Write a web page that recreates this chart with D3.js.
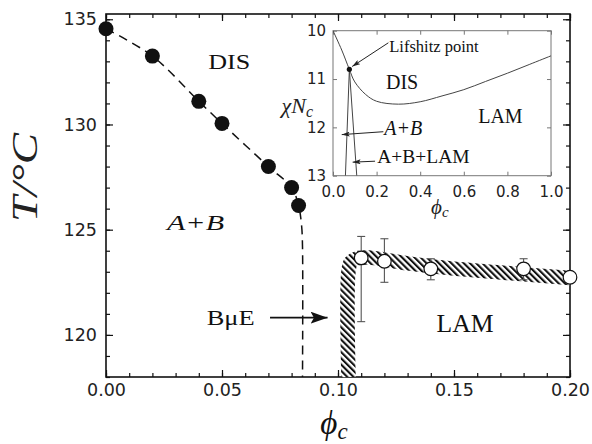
<!DOCTYPE html>
<html>
<head>
<meta charset="utf-8">
<script src="https://cdn.jsdelivr.net/npm/d3@7"></script>
<style>
body{margin:0;background:#fff;}
svg{display:block;}
.serif{font-family:"Liberation Serif","Times New Roman",serif;}
.tick text{font-family:"DejaVu Sans",sans-serif;}
</style>
</head>
<body>
<svg id="chart" width="592" height="444"></svg>
<script>

// ===============================
// DATA (main panel)
// ===============================

const filledPhi=[0.00,0.02,0.04,0.05,0.07,0.08,0.083];
const filledT=[134.55,133.25,131.1,130.05,128.0,127.0,126.15];

const dashPhi=[0.00,0.02,0.04,0.05,0.07,0.08,0.083,0.0843,0.0847,0.0847];
const dashT=[134.55,133.25,131.1,130.05,128.0,127.0,126.15,125.2,124.2,118.0];

const openPhi=[0.11,0.12,0.14,0.18,0.20];
const openT=[123.66,123.5,123.14,123.14,122.74];
const errLow=[120.63,122.5,122.62,122.62,null];
const errHigh=[124.68,124.57,123.62,123.62,null];

const bandPhi=[0.1045,0.1045,0.1055,0.108,0.113,0.13,0.15,0.17,0.20];
const bandT=[118.0,123.0,123.45,123.63,123.68,123.4,123.15,122.97,122.7];

const xTicks=[0.00,0.05,0.10,0.15,0.20];
const yTicks=[120,125,130,135];

// ===============================
// DATA (inset)
// ===============================

const insetPhi=[0,0.04,0.075,0.1,0.15,0.2,0.3,0.4,0.5,0.6,0.7,0.8,0.9,1.0];
const insetChi=[10.0,10.4,10.8,11.06,11.32,11.46,11.52,11.47,11.35,11.22,11.05,10.88,10.7,10.52];
const lifshitz=[0.075,10.8];
const abLeftPhi=[0.075,0.057];
const abRightPhi=[0.075,0.109];
const abChi=[10.8,13.0];
const insetXTicks=[0.0,0.2,0.4,0.6,0.8,1.0];
const insetYTicks=[10,11,12,13];

// ===============================
// SETUP
// ===============================

const svg=d3.select("#chart");

const x=d3.scaleLinear().domain([0,0.2]).range([106,570]);
const y=d3.scaleLinear().domain([118,135.25]).range([377,14]);

const ix=d3.scaleLinear().domain([0,1]).range([333,551]);
const iy=d3.scaleLinear().domain([10,13]).range([30.7,175.7]);

const defs=svg.append("defs");

const hatch=defs.append("pattern")
    .attr("id","hatch")
    .attr("patternUnits","userSpaceOnUse")
    .attr("width",4.4)
    .attr("height",4.4)
    .attr("patternTransform","rotate(-45)");
hatch.append("rect").attr("width",4.4).attr("height",4.4).attr("fill","#fff");
hatch.append("rect").attr("width",2.1).attr("height",4.4).attr("fill","#111");

function addArrow(id,len,wid,color){
    defs.append("marker")
        .attr("id",id)
        .attr("markerUnits","userSpaceOnUse")
        .attr("viewBox",`0 ${-wid/2} ${len} ${wid}`)
        .attr("refX",len)
        .attr("refY",0)
        .attr("markerWidth",len)
        .attr("markerHeight",wid)
        .attr("orient","auto")
        .append("path")
        .attr("d",`M0,${-wid/2}L${len},0L0,${wid/2}L${len*0.2},0Z`)
        .attr("fill",color);
}
addArrow("bigArrow",17,12,"#111");
addArrow("smallArrow",8,5,"#222");

// ===============================
// MAIN AXES
// ===============================

const minorX=d3.range(0,0.2001,0.01);
const minorY=d3.range(118,135.1,1);

function axisGroup(axis,transform){
    const g=svg.append("g").attr("transform",transform).call(axis);
    g.select(".domain").remove();
    g.selectAll(".tick line").attr("stroke","#111").attr("stroke-width",1.2);
    return g;
}

axisGroup(d3.axisBottom(x).tickValues(minorX).tickSize(-4).tickFormat(""),"translate(0,377)");
axisGroup(d3.axisTop(x).tickValues(minorX).tickSize(-4).tickFormat(""),"translate(0,14)");
axisGroup(d3.axisLeft(y).tickValues(minorY).tickSize(-4).tickFormat(""),"translate(106,0)");
axisGroup(d3.axisRight(y).tickValues(minorY).tickSize(-4).tickFormat(""),"translate(570,0)");

const xAxis=axisGroup(d3.axisBottom(x).tickValues(xTicks).tickSize(-7).tickPadding(7).tickFormat(d3.format(".2f")),"translate(0,377)");
axisGroup(d3.axisTop(x).tickValues(xTicks).tickSize(-7).tickFormat(""),"translate(0,14)");
const yAxis=axisGroup(d3.axisLeft(y).tickValues(yTicks).tickSize(-7).tickPadding(9).tickFormat(d3.format("d")),"translate(106,0)");
axisGroup(d3.axisRight(y).tickValues(yTicks).tickSize(-7).tickFormat(""),"translate(570,0)");

xAxis.selectAll("text").attr("font-size",17.5).attr("fill","#222");
yAxis.selectAll("text").attr("font-size",17.5).attr("fill","#222");

svg.append("rect")
    .attr("x",106).attr("y",14)
    .attr("width",464).attr("height",363)
    .attr("fill","none")
    .attr("stroke","#111")
    .attr("stroke-width",1.6);

// ===============================
// HATCHED BAND
// ===============================

const bandLine=d3.line()
    .x((d,i)=>x(bandPhi[i]))
    .y((d,i)=>y(bandT[i]))
    .curve(d3.curveCatmullRom);

svg.append("path")
    .attr("d",bandLine(bandPhi))
    .attr("fill","none")
    .attr("stroke","url(#hatch)")
    .attr("stroke-width",14.5)
    .attr("stroke-linejoin","round");

// ===============================
// DASHED BOUNDARY + FILLED POINTS
// ===============================

const dashLine=d3.line()
    .x((d,i)=>x(dashPhi[i]))
    .y((d,i)=>y(dashT[i]))
    .curve(d3.curveCatmullRom);

svg.append("path")
    .attr("d",dashLine(dashPhi))
    .attr("fill","none")
    .attr("stroke","#111")
    .attr("stroke-width",1.5)
    .attr("stroke-dasharray","9,6");

svg.selectAll(".filled")
    .data(filledPhi)
    .enter()
    .append("circle")
    .attr("class","filled")
    .attr("cx",d=>x(d))
    .attr("cy",(d,i)=>y(filledT[i]))
    .attr("r",7.5)
    .attr("fill","#111");

// ===============================
// ERROR BARS + OPEN POINTS
// ===============================

openPhi.forEach((p,i)=>{
    if(errLow[i]===null) return;
    const g=svg.append("g").attr("stroke","#555").attr("stroke-width",1.1);
    g.append("line").attr("x1",x(p)).attr("x2",x(p)).attr("y1",y(errLow[i])).attr("y2",y(errHigh[i]));
    g.append("line").attr("x1",x(p)-4).attr("x2",x(p)+4).attr("y1",y(errLow[i])).attr("y2",y(errLow[i]));
    g.append("line").attr("x1",x(p)-4).attr("x2",x(p)+4).attr("y1",y(errHigh[i])).attr("y2",y(errHigh[i]));
});

svg.selectAll(".open")
    .data(openPhi)
    .enter()
    .append("circle")
    .attr("class","open")
    .attr("cx",d=>x(d))
    .attr("cy",(d,i)=>y(openT[i]))
    .attr("r",6.8)
    .attr("fill","#fff")
    .attr("stroke","#111")
    .attr("stroke-width",1.2);

// ===============================
// MAIN LABELS
// ===============================

function label(text,px,py,size,opts={}){
    const t=svg.append("text")
        .attr("class","serif")
        .attr("x",px).attr("y",py)
        .attr("font-size",size)
        .attr("fill","#111")
        .text(text);
    if(opts.italic) t.attr("font-style","italic");
    if(opts.len) t.attr("textLength",opts.len).attr("lengthAdjust","spacingAndGlyphs");
    if(opts.anchor) t.attr("text-anchor",opts.anchor);
    return t;
}

label("DIS",x(0.0441),y(132.62),22,{len:42});
label("A+B",x(0.0263),y(124.98),22,{italic:true,len:57});
label("LAM",x(0.1425),y(120.15),25,{len:57});
label("BμE",x(0.0434),y(120.47),21,{len:48});

svg.append("line")
    .attr("x1",x(0.0707)).attr("x2",x(0.0955))
    .attr("y1",y(120.82)).attr("y2",y(120.82))
    .attr("stroke","#111")
    .attr("stroke-width",1.6)
    .attr("marker-end","url(#bigArrow)");

// axis titles
const xt=svg.append("text")
    .attr("class","serif")
    .attr("x",x(0.10)-4).attr("y",434)
    .attr("text-anchor","middle")
    .attr("font-size",33)
    .attr("font-style","italic")
    .attr("fill","#111");
xt.append("tspan").text("ϕ");
xt.append("tspan").attr("font-size",23).attr("dy",5).text("c");

svg.append("text")
    .attr("class","serif")
    .attr("transform","translate(37,177.5) rotate(-90)")
    .attr("text-anchor","middle")
    .attr("font-size",36)
    .attr("font-style","italic")
    .attr("fill","#222")
    .attr("textLength",89)
    .attr("lengthAdjust","spacingAndGlyphs")
    .text("T/°C");

// ===============================
// INSET
// ===============================

const inset=svg.append("g");

inset.append("rect")
    .attr("x",ix(0)).attr("y",iy(10))
    .attr("width",ix(1)-ix(0)).attr("height",iy(13)-iy(10))
    .attr("fill","#fff")
    .attr("stroke","#777")
    .attr("stroke-width",1);

function insetAxis(axis,transform){
    const g=inset.append("g").attr("transform",transform).call(axis);
    g.select(".domain").remove();
    g.selectAll(".tick line").attr("stroke","#777");
    g.selectAll(".tick text")
        .attr("font-family","Liberation Serif, serif")
        .attr("font-size",15)
        .attr("fill","#222");
    return g;
}

insetAxis(d3.axisBottom(ix).tickValues(insetXTicks).tickSize(-4).tickPadding(11).tickFormat(d3.format(".1f")),`translate(0,${iy(13)})`);
insetAxis(d3.axisTop(ix).tickValues(insetXTicks).tickSize(-4).tickFormat(""),`translate(0,${iy(10)})`);
insetAxis(d3.axisLeft(iy).tickValues(insetYTicks).tickSize(-4).tickPadding(7).tickFormat(d3.format("d")),`translate(${ix(0)},0)`);
insetAxis(d3.axisRight(iy).tickValues(insetYTicks).tickSize(-4).tickFormat(""),`translate(${ix(1)},0)`);

const insetClip=defs.append("clipPath").attr("id","insetClip");
insetClip.append("rect")
    .attr("x",ix(0)).attr("y",iy(10))
    .attr("width",ix(1)-ix(0)).attr("height",iy(13)-iy(10));

const curves=inset.append("g").attr("clip-path","url(#insetClip)");

const disLine=d3.line()
    .x((d,i)=>ix(insetPhi[i]))
    .y((d,i)=>iy(insetChi[i]))
    .curve(d3.curveCatmullRom);

curves.append("path")
    .attr("d",disLine(insetPhi))
    .attr("fill","none")
    .attr("stroke","#444")
    .attr("stroke-width",1);

[abLeftPhi,abRightPhi].forEach(arr=>{
    curves.append("path")
        .attr("d",d3.line().x((d,i)=>ix(arr[i])).y((d,i)=>iy(abChi[i]))(arr))
        .attr("fill","none")
        .attr("stroke","#444")
        .attr("stroke-width",1);
});

inset.append("circle")
    .attr("cx",ix(lifshitz[0]))
    .attr("cy",iy(lifshitz[1]))
    .attr("r",2.6)
    .attr("fill","#111");

function insetLabel(text,px,py,size,italic){
    const t=inset.append("text")
        .attr("class","serif")
        .attr("x",px).attr("y",py)
        .attr("font-size",size)
        .attr("fill","#111")
        .text(text);
    if(italic) t.attr("font-style","italic");
    return t;
}

function insetArrow(p0,c0,p1,c1){
    inset.append("line")
        .attr("x1",ix(p0)).attr("y1",iy(c0))
        .attr("x2",ix(p1)).attr("y2",iy(c1))
        .attr("stroke","#222")
        .attr("stroke-width",1)
        .attr("marker-end","url(#smallArrow)");
}

insetLabel("Lifshitz point",ix(0.258),iy(10.44),16.5,false);
insetArrow(0.254,10.25,0.088,10.74);

insetLabel("DIS",ix(0.243),iy(11.21),20,false);
insetLabel("LAM",ix(0.666),iy(11.9),20,false);

insetLabel("A+B",ix(0.235),iy(12.16),20,true);
insetArrow(0.231,12.09,0.04,12.15);

insetLabel("A+B+LAM",ix(0.203),iy(12.73),19.5,false);
insetArrow(0.193,12.70,0.09,12.72);

const chiLabel=inset.append("text")
    .attr("class","serif")
    .attr("x",313).attr("y",113)
    .attr("text-anchor","end")
    .attr("font-size",22)
    .attr("font-style","italic")
    .attr("fill","#222");
chiLabel.append("tspan").text("χN");
chiLabel.append("tspan").attr("font-size",16).attr("dy",4).text("c");

const phiLabel=inset.append("text")
    .attr("class","serif")
    .attr("x",ix(0.49)).attr("y",214)
    .attr("text-anchor","middle")
    .attr("font-size",21)
    .attr("font-style","italic")
    .attr("fill","#222");
phiLabel.append("tspan").text("ϕ");
phiLabel.append("tspan").attr("font-size",15).attr("dy",3).text("c");

</script>
</body>
</html>
